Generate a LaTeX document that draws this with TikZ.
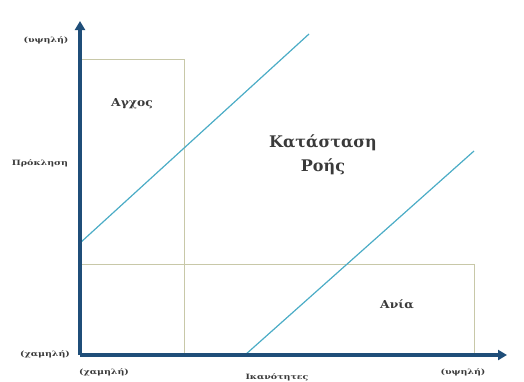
\documentclass[tikz,border=0pt]{standalone}
\usepackage{fontspec}
\setmainfont{DejaVu Serif}
\usetikzlibrary{arrows.meta}
\definecolor{axisblue}{HTML}{1F4E79}
\definecolor{boxline}{HTML}{C8C8A8}
\definecolor{diag}{HTML}{4BACC6}
\definecolor{txt}{HTML}{3A3A3A}
\begin{document}
\begin{tikzpicture}[x=1pt,y=-1pt,
  axis/.style={draw=axisblue,line width=3.2pt,-{Triangle[length=9pt,width=10pt]}},
  zone/.style={draw=boxline,line width=0.8pt},
  flowline/.style={draw=diag,line width=1.2pt},
  small/.style={text=txt,font=\bfseries\fontsize{7.3}{8}\selectfont,inner sep=0pt,xscale=1.3},
  mid/.style={text=txt,font=\bfseries\fontsize{11}{13}\selectfont,inner sep=0pt,xscale=1.12},
  big/.style={text=txt,font=\bfseries\fontsize{16}{24}\selectfont,inner sep=0pt,align=center}]
\useasboundingbox (0,0) rectangle (524,381);
% coordinates
\coordinate (O) at (80,355);
\coordinate (Ytip) at (80,21);
\coordinate (Xtip) at (507,355);
\coordinate (A1) at (80,59);
\coordinate (A2) at (184,59);
\coordinate (A3) at (184,355);
\coordinate (B1) at (80,264);
\coordinate (B2) at (474,264);
\coordinate (B3) at (474,355);
\coordinate (D1s) at (80,243);
\coordinate (D1e) at (309,34);
\coordinate (D2s) at (245,355);
\coordinate (D2e) at (474,151);
% zones
\draw[zone] (A1) -- (A2) -- (A3);
\draw[zone] (B1) -- (B2) -- (B3);
% diagonals
\draw[flowline] (D1s) -- (D1e);
\draw[flowline] (D2s) -- (D2e);
% axes
\draw[axis] (O) -- (Ytip);
\draw[axis] (O) -- (Xtip);
% labels
\node[small] (yhigh) at (46,40) {(υψηλή)};
\node[small] (ylow) at (45,354) {(χαμηλή)};
\node[small] (xlow) at (104,372) {(χαμηλή)};
\node[small] (xhigh) at (463,372) {(υψηλή)};
\node[small] (xlab) at (277,377) {Ικανότητες};
\node[small] (ylab) at (40,163) {Πρόκληση};
\node[mid] (anx) at (132,104) {Αγχος};
\node[mid] (bor) at (397,304) {Ανία};
\node[big] (flow) at (323,155) {Κατάσταση\\Ροής};
\end{tikzpicture}
\end{document}
